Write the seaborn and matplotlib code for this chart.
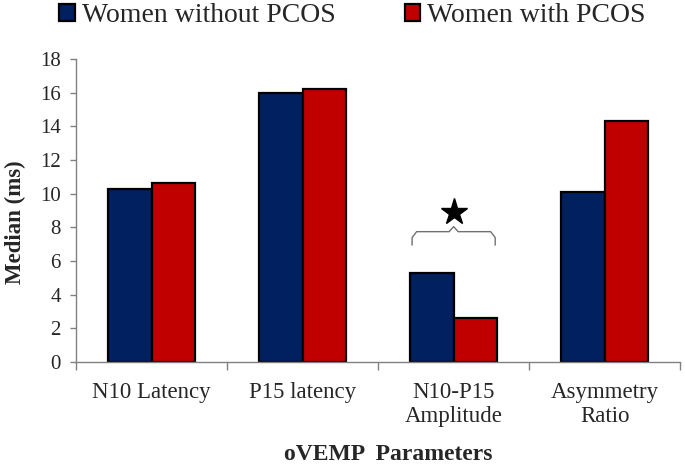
import matplotlib
matplotlib.use("Agg")
import matplotlib.pyplot as plt
import seaborn as sns
import pandas as pd
import numpy as np

categories = ["N10 Latency", "P15 latency", "N10-P15\nAmplitude", "Asymmetry\nRatio"]
groups = ["Women without PCOS", "Women with PCOS"]
without_pcos = [10.3, 16.0, 5.3, 10.1]
with_pcos = [10.65, 16.25, 2.6, 14.3]
yticks = [0, 2, 4, 6, 8, 10, 12, 14, 16, 18]
colors = ["#002060", "#C00000"]

df = pd.DataFrame({
    "Parameter": categories * 2,
    "Group": [groups[0]] * 4 + [groups[1]] * 4,
    "Median": without_pcos + with_pcos,
})

sns.set_theme(style="white")
plt.rcParams["font.family"] = ["Liberation Serif", "DejaVu Serif"]

fig = plt.figure(figsize=(6.85, 4.66), dpi=100)
ax = fig.add_axes([0.111, 0.223, 0.882, 0.650])

sns.barplot(data=df, x="Parameter", y="Median", hue="Group", palette=colors,
            width=0.58, gap=0, edgecolor="black", linewidth=1.6, ax=ax,
            saturation=1, errorbar=None)

ax.set_xlim(-0.5, 3.5)
ax.set_ylim(0, 18)
ax.set_yticks(yticks)
ax.tick_params(axis="y", labelsize=15, length=4, width=1, color="#808080",
               direction="out", pad=7, left=True)
ax.tick_params(axis="x", which="major", length=0, labelsize=16.5, pad=14)
ax.set_xticks(np.arange(-0.5, 4.0, 1.0), minor=True)
ax.tick_params(axis="x", which="minor", length=6, width=1, color="#808080",
               direction="out", bottom=True)
for lab in ax.get_xticklabels():
    lab.set_verticalalignment("top")

for s in ["top", "right"]:
    ax.spines[s].set_visible(False)
for s in ["left", "bottom"]:
    ax.spines[s].set_color("#808080")
    ax.spines[s].set_linewidth(1)

ax.set_ylabel("Median (ms)", fontsize=16.5, fontweight="bold")
ax.yaxis.set_label_coords(-0.101, 0.4625)
ax.set_xlabel("oVEMP  Parameters", fontsize=17, fontweight="bold")
ax.xaxis.set_label_coords(0.516, -0.305)
ax.xaxis.label.set_verticalalignment("center")
ax.yaxis.label.set_verticalalignment("center")

# significance bracket over N10-P15 Amplitude
cx = 2
hw = 0.275
yb = 7.75
yd = 6.95
r = 0.03
xs = [cx - hw, cx - hw, cx - hw + r, cx - r, cx, cx + r, cx + hw - r, cx + hw, cx + hw]
ys = [yd, yb - 0.35, yb, yb, yb + 0.3, yb, yb, yb - 0.35, yd]
ax.plot(xs, ys, color="#707070", lw=1.0, solid_joinstyle="round")
ax.plot([cx], [8.9], marker="*", color="black", markersize=20, clip_on=False)

h, l = ax.get_legend_handles_labels()
ax.legend(h, l, loc="center", bbox_to_anchor=(0.5146, 0.966), bbox_transform=fig.transFigure,
          ncol=2, frameon=False, fontsize=20, handlelength=0.55, handleheight=0.55,
          handletextpad=0.25, columnspacing=2.5, borderaxespad=0.0, borderpad=0.0)

fig.savefig("out.png", dpi=100)
